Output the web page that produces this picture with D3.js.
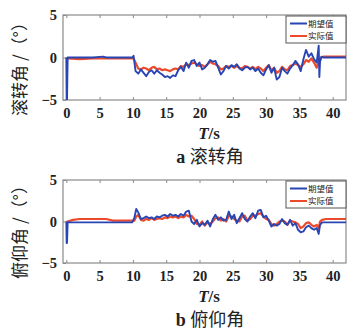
<!DOCTYPE html>
<html>
<head>
<meta charset="utf-8">
<script src="https://cdn.jsdelivr.net/npm/d3@7"></script>
<style>
  html, body { margin: 0; padding: 0; background: #fff; }
  svg { display: block; }
</style>
</head>
<body>
<div id="chart"></div>
<script>
// 滚转角 data
const rollT = [0, 0.05, 0.1, 0.2, 2, 4, 5.5, 6, 8, 9.9, 10.1, 10.4, 10.8, 11.2, 11.6, 12, 12.4, 12.8, 13.2, 13.6, 14, 14.4, 14.8, 15.2, 15.6, 16, 16.4, 16.8, 17.2, 17.6, 18, 18.4, 18.8, 19.2, 19.6, 20, 20.4, 20.8, 21.2, 21.6, 22, 22.4, 22.8, 23.2, 23.6, 24, 24.4, 24.8, 25.2, 25.6, 26, 26.4, 26.8, 27.2, 27.6, 28, 28.4, 28.8, 29.2, 29.6, 30, 30.4, 30.8, 31.2, 31.6, 32, 32.4, 32.8, 33.2, 33.6, 34, 34.4, 34.8, 35.2, 35.6, 36, 36.4, 36.8, 37.2, 37.6, 37.9, 38, 38.1, 38.3, 38.6, 40, 42];
const rollDesired = [0, -5, -5, 0, 0, 0, 0.1, 0, 0, 0, 0.2, -1.6, -1.9, -1.4, -1.8, -2.2, -1.7, -1.5, -1.9, -1.5, -1.8, -2.0, -2.3, -2.2, -2.4, -2.1, -2.2, -1.5, -1.1, -1.6, -0.6, -1.2, -0.4, -0.3, -1.0, -0.6, -1.4, -1.2, -0.8, -0.3, -0.5, -0.4, -1.2, -2.0, -1.6, -1.0, -1.3, -0.9, -1.1, -0.8, -1.3, -1.5, -1.2, -1.1, -1.4, -1.2, -1.6, -1.3, -1.8, -2.1, -1.4, -0.9, -1.8, -1.2, -2.6, -2.3, -1.2, -1.6, -1.9, -1.3, -0.9, -0.4, -0.8, -1.6, -0.2, 0.9, 0.1, 0.5, -0.2, -0.6, 1.4, -2.3, -0.5, 0.1, 0, 0, 0];
const rollActual = [0, -0.1, -0.1, -0.1, -0.2, -0.1, -0.1, -0.1, -0.1, -0.1, -0.1, -0.6, -1.3, -1.4, -1.2, -1.3, -1.5, -1.2, -1.1, -1.4, -1.3, -1.5, -1.4, -1.5, -1.6, -1.4, -1.3, -1.4, -1.0, -1.1, -0.8, -0.9, -0.7, -0.6, -0.8, -1.0, -0.9, -1.1, -0.8, -0.5, -0.7, -0.8, -1.0, -1.4, -1.3, -1.0, -1.1, -1.0, -1.2, -1.0, -1.2, -1.3, -1.0, -1.1, -1.3, -1.1, -1.4, -1.1, -1.3, -1.6, -1.2, -0.9, -1.5, -1.2, -1.8, -1.6, -1.1, -1.4, -1.5, -1.0, -0.9, -0.7, -0.9, -1.1, -0.8, -0.3, -0.5, -0.1, -0.6, -1.2, -0.4, -0.6, -0.3, 0, 0.1, 0.1, 0.1];

// 俯仰角 data
const pitchT = [0, 0.05, 0.1, 0.2, 1, 2, 4, 6, 7, 9.9, 10.2, 10.5, 10.8, 11.2, 11.6, 12, 12.4, 12.8, 13.2, 13.6, 14, 14.4, 14.8, 15.2, 15.6, 16, 16.4, 16.8, 17.2, 17.6, 18, 18.4, 18.8, 19.2, 19.6, 20, 20.4, 20.8, 21.2, 21.6, 22, 22.4, 22.8, 23.2, 23.6, 24, 24.4, 24.8, 25.2, 25.6, 26, 26.4, 26.8, 27.2, 27.6, 28, 28.4, 28.8, 29.2, 29.6, 30, 30.4, 30.8, 31.2, 31.6, 32, 32.4, 32.8, 33.2, 33.6, 34, 34.4, 34.8, 35.2, 35.6, 36, 36.4, 36.8, 37.2, 37.6, 37.9, 38.1, 38.4, 39, 40, 42];
const pitchDesired = [0, -2.6, -2.6, -0.1, -0.1, -0.1, -0.1, -0.1, -0.1, -0.1, 0.4, 1.5, 1.1, 0.3, 0.4, 0.6, 0.4, 0.5, 0.3, 0.6, 0.5, 0.7, 0.8, 0.6, 0.9, 0.7, 0.8, 0.6, 0.9, 0.7, 1.2, 1.3, 0.0, -0.3, 0.2, -0.6, -0.2, -0.4, 0.1, -0.6, 0.3, 0.8, 0.2, 0.5, 0.1, 0.2, 1.2, 0.3, 0.8, -0.2, 0.4, 1.0, 0.3, 0.0, 0.6, 1.0, 0.4, 1.3, 1.4, 0.5, 0.7, 0.1, -0.6, -0.3, -0.5, -0.3, 0.3, -0.2, -0.4, 0.2, -0.5, -0.2, -1.0, -1.3, -1.2, -0.7, -0.5, -0.8, -1.0, -0.8, -1.5, -0.4, -0.1, -0.1, -0.1, -0.1];
const pitchActual = [0, 0, 0, 0, 0.2, 0.3, 0.3, 0.3, 0.1, 0.1, 0.1, 0.6, 0.8, 0.2, 0.1, 0.3, 0.2, 0.4, 0.2, 0.3, 0.4, 0.3, 0.5, 0.4, 0.6, 0.5, 0.6, 0.4, 0.6, 0.5, 0.8, 0.6, 0.7, 0.3, -0.3, -0.4, 0.0, -0.5, -0.1, -0.3, 0.0, 0.4, 0.5, 0.1, 0.3, 0.0, 0.7, 0.6, 0.3, 0.1, 0.0, 0.6, 0.7, 0.1, 0.3, 0.7, 0.7, 0.9, 1.0, 0.6, 0.3, 0.2, -0.3, -0.5, -0.3, 0.0, 0.1, 0.0, -0.4, 0.1, 0.0, -0.1, -0.3, -0.8, -0.6, -0.2, -0.1, -0.4, -0.6, -0.4, -0.8, 0.0, 0.2, 0.3, 0.3, 0.3];

const xTicks = [0, 5, 10, 15, 20, 25, 30, 35, 40];
const yTicks = [-5, 0, 5];
const legendNames = ['期望值', '实际值'];

const width = 347, height = 333;
const blue = '#2845b4';
const red = '#ec4a2c';

const svg = d3.select('#chart').append('svg')
  .attr('width', width)
  .attr('height', height);

const serif = '"Liberation Serif", "DejaVu Serif", serif';
const cjk = '"Noto Sans CJK SC", sans-serif';

function drawPanel(cfg) {
  const x = d3.scaleLinear().domain([-0.5, 42]).range([63, 346]);
  const y = d3.scaleLinear().domain([-5, 5]).range([cfg.bottom, cfg.top]);

  const g = svg.append('g');

  // frame
  g.append('rect')
    .attr('x', 63).attr('y', cfg.top)
    .attr('width', 283).attr('height', cfg.bottom - cfg.top)
    .attr('fill', '#fff')
    .attr('stroke', '#8a8a8a')
    .attr('stroke-width', 1.2);

  // axes with inward ticks
  const xAxis = g.append('g')
    .attr('transform', `translate(0,${cfg.bottom})`)
    .call(d3.axisBottom(x).tickValues(xTicks).tickSizeInner(-3).tickSizeOuter(0).tickPadding(8));
  g.append('g')
    .attr('transform', `translate(0,${cfg.top})`)
    .call(d3.axisTop(x).tickValues(xTicks).tickSizeInner(-3).tickSizeOuter(0).tickFormat(''));
  const yAxis = g.append('g')
    .attr('transform', 'translate(63,0)')
    .call(d3.axisLeft(y).tickValues(yTicks).tickSizeInner(-3).tickSizeOuter(0).tickPadding(6)
      .tickFormat(d => d < 0 ? '\u2212' + Math.abs(d) : d));

  g.selectAll('.domain').remove();
  g.selectAll('.tick line').attr('stroke', '#8a8a8a');
  [xAxis, yAxis].forEach(a => a.selectAll('text')
    .style('font-family', serif)
    .style('font-size', '14.5px')
    .style('font-weight', 'bold')
    .attr('fill', '#222'));

  // lines
  const line = (ts) => d3.line().x((d, i) => x(ts[i])).y(d => y(d));
  const clipId = 'clip-' + cfg.id;
  g.append('clipPath').attr('id', clipId).append('rect')
    .attr('x', 63).attr('y', cfg.top).attr('width', 283).attr('height', cfg.bottom - cfg.top);

  const lines = g.append('g').attr('clip-path', `url(#${clipId})`);
  lines.append('path')
    .attr('d', line(cfg.t)(cfg.actual))
    .attr('fill', 'none').attr('stroke', red).attr('stroke-width', 2.2)
    .attr('stroke-linejoin', 'round');
  lines.append('path')
    .attr('d', line(cfg.t)(cfg.desired))
    .attr('fill', 'none').attr('stroke', blue).attr('stroke-width', 1.9)
    .attr('stroke-linejoin', 'round');

  // legend
  const lg = g.append('g').attr('transform', `translate(286,${cfg.top + 1})`);
  lg.append('rect')
    .attr('width', 60).attr('height', 27)
    .attr('fill', '#fff').attr('stroke', '#555').attr('stroke-width', 1);
  [blue, red].forEach((c, i) => {
    lg.append('line')
      .attr('x1', 4).attr('x2', 21)
      .attr('y1', 7.5 + i * 12.5).attr('y2', 7.5 + i * 12.5)
      .attr('stroke', c).attr('stroke-width', 2);
    lg.append('text')
      .attr('x', 22).attr('y', 10.5 + i * 12.5)
      .style('font-family', cjk)
      .style('font-size', '8.5px')
      .attr('fill', '#222')
      .text(legendNames[i]);
  });

  // y label
  svg.append('text')
    .attr('transform', `translate(26,${cfg.yLabelY}) rotate(-90)`)
    .attr('text-anchor', 'middle')
    .style('font-family', cjk)
    .style('font-size', '17px')
    .attr('fill', '#222')
    .text(cfg.yLabel);

  // x label
  const xl = svg.append('text')
    .attr('x', 209).attr('y', cfg.bottom + 39)
    .attr('text-anchor', 'middle')
    .style('font-family', serif)
    .style('font-size', '17px')
    .style('font-weight', 'bold')
    .attr('fill', '#222');
  xl.append('tspan').style('font-style', 'italic').text('T');
  xl.append('tspan').text('/s');

  // caption
  const cap = svg.append('text')
    .attr('x', 210).attr('y', cfg.bottom + 63)
    .attr('text-anchor', 'middle')
    .attr('fill', '#222');
  cap.append('tspan').style('font-family', serif).style('font-size', '18px').style('font-weight', 'bold').text(cfg.letter + ' ');
  cap.append('tspan').style('font-family', cjk).style('font-size', '18px').text(cfg.caption);
}

drawPanel({
  id: 'roll', top: 15, bottom: 100,
  t: rollT, desired: rollDesired, actual: rollActual,
  yLabel: '滚转角 /（°）', yLabelY: 65, letter: 'a', caption: '滚转角'
});
drawPanel({
  id: 'pitch', top: 180, bottom: 263,
  t: pitchT, desired: pitchDesired, actual: pitchActual,
  yLabel: '俯仰角 /（°）', yLabelY: 228, letter: 'b', caption: '俯仰角'
});
</script>
</body>
</html>
